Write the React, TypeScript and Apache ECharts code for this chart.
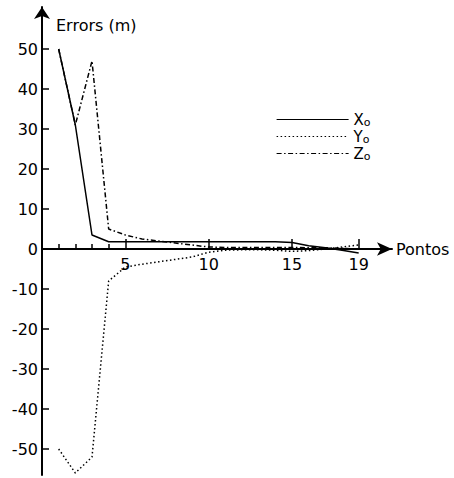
import React, { useEffect, useRef } from 'react';
import * as echarts from 'echarts';

const points = [1, 2, 3, 4, 5, 6, 7, 8, 9, 10, 11, 12, 13, 14, 15, 16, 17, 18, 19];
const xErr = [50, 31, 3.5, 1.8, 1.8, 1.8, 1.8, 1.8, 1.8, 1.8, 1.8, 1.8, 1.8, 1.8, 1.6, 0.8, 0.3, -0.3, -1];
const yErr = [-50, -56, -52, -8, -4.5, -3.8, -3.2, -2.6, -2, -0.8, -0.3, -0.2, -0.2, -0.3, -0.6, -0.4, 0, 0.5, 1];
const zErr = [50, 31, 47, 5, 3.5, 2.5, 2, 1.5, 1, 0.5, 0.4, 0.4, 0.4, 0.4, 0.4, 0.3, 0.3, 0.2, 0];
const yTickValues = [-50, -40, -30, -20, -10, 0, 10, 20, 30, 40, 50];
const xMajorTicks = [5, 10, 15, 19];
const xMinorTicks = [1, 2, 3, 4];
const seriesNames = ['X', 'Y', 'Z'];
const yTitle = 'Errors (m)';
const xTitle = 'Pontos';

export default function App() {
  const ref = useRef<HTMLDivElement>(null);
  useEffect(() => {
    const chart = echarts.init(ref.current!, null, { renderer: 'svg' });
    const font = 'DejaVu Sans';
    const pair = (vals: number[]) => points.map((p, i) => [p, vals[i]]);
    const black = '#000';
    const mkSeries = (name: string, vals: number[], type: any) => ({
      name,
      type: 'line',
      data: pair(vals),
      symbol: 'none',
      showSymbol: false,
      lineStyle: { color: black, width: 1.5, type },
      itemStyle: { color: black },
    });
    const gridTop = 7;
    const gridBottom = 3;
    const chartH = 478;
    const yMin = -56.5;
    const yMax = 60.5;
    const plotH = chartH - gridTop - gridBottom;
    const zeroOffset = -(plotH * (0 - yMin)) / (yMax - yMin);
    chart.setOption({
      animation: false,
      backgroundColor: '#fff',
      textStyle: { fontFamily: font },
      grid: { left: 42, right: 62, top: gridTop, bottom: gridBottom, containLabel: false, outerBoundsMode: 'none' },
      xAxis: [
        {
          type: 'value',
          min: 0,
          max: 21,
          position: 'bottom',
          offset: zeroOffset,
          name: xTitle,
          nameLocation: 'end',
          nameGap: 4,
          nameTextStyle: { color: black, fontSize: 16, fontFamily: font },
          axisLine: {
            onZero: false,
            lineStyle: { color: black, width: 2 },
            symbol: ['none', 'arrow'],
            symbolSize: [10, 15],
          },
          axisTick: {
            inside: true,
            length: 10,
            customValues: xMajorTicks,
            lineStyle: { color: black, width: 1.5 },
          },
          axisLabel: {
            customValues: xMajorTicks,
            color: black,
            fontSize: 16,
            margin: 7,
            fontFamily: font,
          },
          splitLine: { show: false },
        },
        {
          type: 'value',
          min: 0,
          max: 21,
          position: 'bottom',
          offset: zeroOffset,
          axisLine: { show: false, onZero: false },
          axisTick: {
            inside: true,
            length: 5,
            customValues: xMinorTicks,
            lineStyle: { color: black, width: 1.5 },
          },
          axisLabel: { show: false },
          splitLine: { show: false },
        },
      ],
      yAxis: {
        type: 'value',
        min: yMin,
        max: yMax,
        position: 'left',
        axisLine: {
          onZero: false,
          lineStyle: { color: black, width: 2 },
          symbol: ['none', 'arrow'],
          symbolSize: [12, 12],
        },
        axisTick: {
          inside: true,
          length: 7,
          customValues: yTickValues,
          lineStyle: { color: black, width: 1.5 },
        },
        axisLabel: {
          customValues: yTickValues,
          color: black,
          fontSize: 16,
          margin: 4,
          fontFamily: font,
          formatter: (v: number) => String(v),
        },
        splitLine: { show: false },
      },
      legend: {
        orient: 'vertical',
        left: 276,
        top: 111,
        padding: 0,
        itemWidth: 72,
        itemHeight: 10,
        itemGap: 0,
        data: seriesNames,
        itemStyle: { opacity: 0 },
        lineStyle: { width: 1.2 },
        formatter: (name: string) => `{m|${name}}{s|o}`,
        textStyle: {
          color: black,
          rich: {
            m: { fontSize: 15, fontFamily: font, color: black, lineHeight: 14 },
            s: { fontSize: 11, fontFamily: font, color: black, lineHeight: 10, padding: [6, 0, 0, 0] },
          },
        },
      },
      graphic: [
        {
          type: 'text',
          left: 56,
          top: 17,
          style: { text: yTitle, font: `16px "${font}"`, fill: black },
        },
      ],
      series: [
        mkSeries(seriesNames[0], xErr, 'solid'),
        mkSeries(seriesNames[1], yErr, [1.5, 2.5]),
        mkSeries(seriesNames[2], zErr, [5, 2.5, 1.5, 2.5]),
      ],
    });
    return () => chart.dispose();
  }, []);
  return (
    <div
      ref={ref}
      style={{ position: 'absolute', left: 0, top: 0, width: 454, height: 478 }}
    />
  );
}
